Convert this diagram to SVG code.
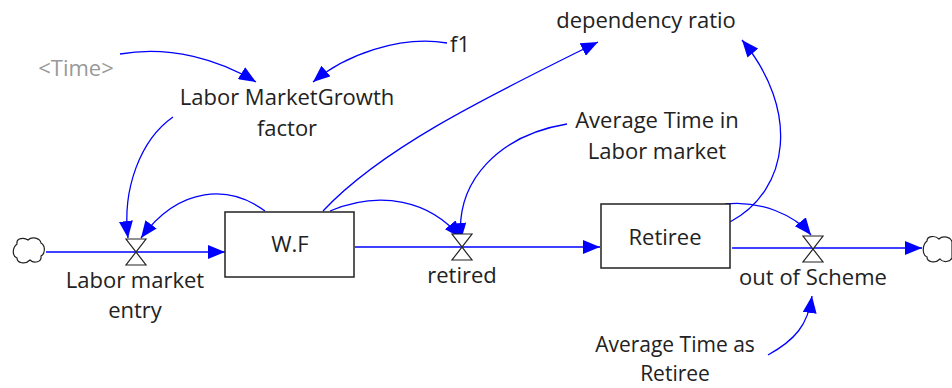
<svg xmlns="http://www.w3.org/2000/svg" width="952" height="388" viewBox="0 0 952 388">
<style>
text{font-family:"Open Sans","Liberation Sans",Arial,sans-serif;font-size:22px;fill:#222;text-anchor:middle}
.gray{fill:#999}
.sm{font-size:21px}
.box{fill:#fff;stroke:#222;stroke-width:1.5}
.flow{stroke:#0000ff;stroke-width:1.5;fill:none}
.link{stroke:#0000ff;stroke-width:1.3;fill:none}
.valve{fill:#fff;stroke:#222;stroke-width:1.2}
.cloud{fill:#fff;stroke:#222;stroke-width:1.2}
</style>
<defs>
<marker id="ah" markerUnits="userSpaceOnUse" markerWidth="18" markerHeight="14" refX="17" refY="7" orient="auto">
<path d="M0,0 L17,7 L0,14 Z" fill="#0000ff"/>
</marker>
</defs>
<rect width="952" height="388" fill="#fff"/>
<g id="connectors">
<path class="flow" d="M46,252 H225" marker-end="url(#ah)"/>
<path class="flow" d="M355,247 H600" marker-end="url(#ah)"/>
<path class="flow" d="M732,248 H922" marker-end="url(#ah)"/>
<path class="link" d="M120,54 C170,45 220,60 256,82" marker-end="url(#ah)"/>
<path class="link" d="M447,43 C400,35 345,55 313,82" marker-end="url(#ah)"/>
<path class="link" d="M173,117 C140,140 122,190 128,238" marker-end="url(#ah)"/>
<path class="link" d="M265,211 C230,185 180,185 141,238" marker-end="url(#ah)"/>
<path class="link" d="M323,211 C380,150 480,100 598,42" marker-end="url(#ah)"/>
<path class="link" d="M330,211 C380,190 430,200 461,238" marker-end="url(#ah)"/>
<path class="link" d="M567,124 C500,135 455,180 461,240" marker-end="url(#ah)"/>
<path class="link" d="M730,222 C790,190 800,110 742,40" marker-end="url(#ah)"/>
<path class="link" d="M725,204 C760,200 795,215 811,235" marker-end="url(#ah)"/>
<path class="link" d="M768,355 C795,340 808,325 812,296" marker-end="url(#ah)"/>
</g>
<g id="cloud-left"><path class="cloud" d="M17,244 C16,238 24,237 28,240 C32,236 40,238 41,243 C46,246 45,254 41,256 C42,262 34,264 30,260 C25,265 17,263 17,258 C12,256 12,248 17,244 Z"/></g>
<g id="cloud-right"><path class="cloud" d="M927,241 C927,236 935,235 939,239 C943,235 951,237 952,242 L952,258 C950,262 943,263 940,259 C935,264 927,262 927,257 C922,255 922,245 927,241 Z"/></g>
<g id="labor-market-entry">
<path class="valve" d="M126,239 H146 L126,265 H146 Z"/>
<text x="135" y="288">Labor market</text>
<text x="135" y="318">entry</text>
</g>
<g id="wf"><rect class="box" x="225" y="212" width="129" height="65"/><text x="290" y="252">W.F</text></g>
<g id="retired">
<path class="valve" d="M452,234 H472 L452,260 H472 Z"/>
<text x="462" y="283">retired</text>
</g>
<g id="retiree"><rect class="box" x="601" y="204" width="129" height="64"/><text x="665" y="245">Retiree</text></g>
<g id="out-of-scheme">
<path class="valve" d="M803,236 H823 L803,262 H823 Z"/>
<text x="813" y="285">out of Scheme</text>
</g>
<g id="time"><text class="gray" x="76" y="76">&lt;Time&gt;</text></g>
<g id="lmg"><text x="287" y="105">Labor MarketGrowth</text><text x="287" y="136">factor</text></g>
<g id="f1"><text x="460" y="52">f1</text></g>
<g id="dependency-ratio"><text x="646" y="28">dependency ratio</text></g>
<g id="atlm"><text x="657" y="128">Average Time in</text><text x="657" y="159">Labor market</text></g>
<g id="atr"><text class="sm" x="675" y="352">Average Time as</text><text class="sm" x="675" y="381">Retiree</text></g>
</svg>
